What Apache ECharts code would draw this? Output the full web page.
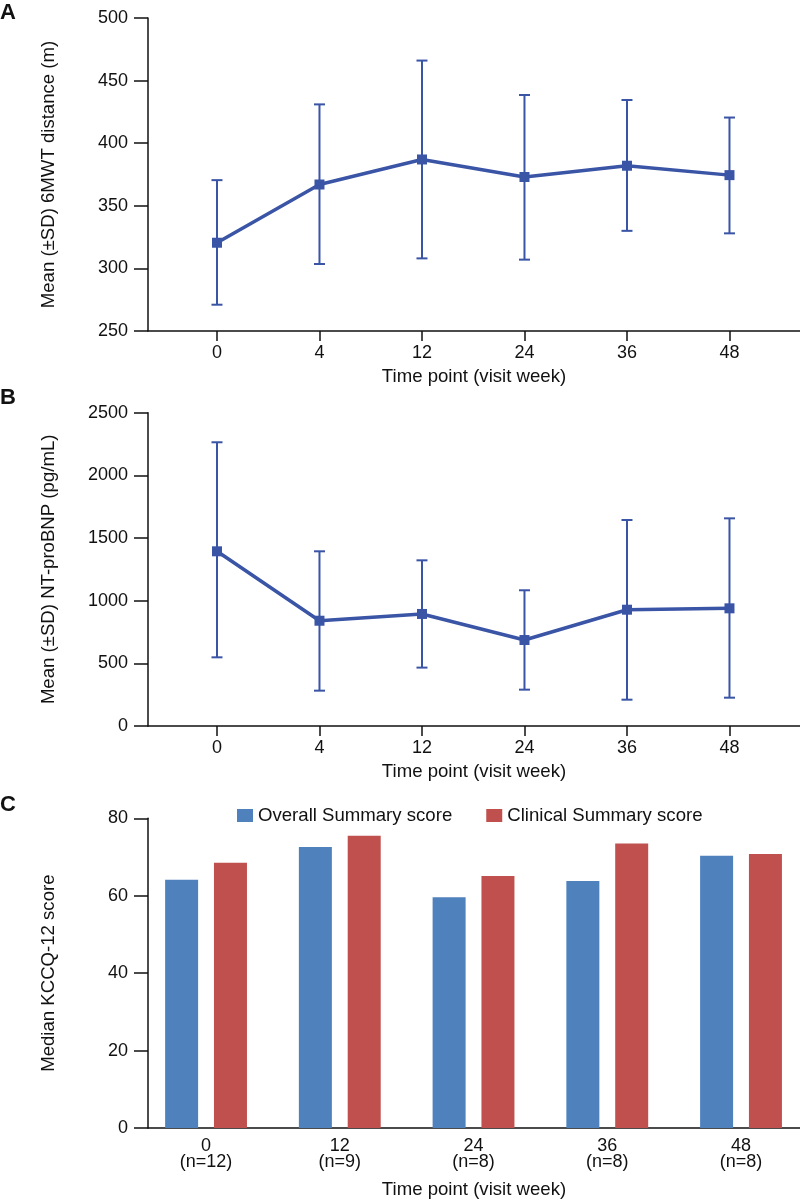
<!DOCTYPE html>
<html lang="en">
<head>
    <meta charset="UTF-8">
    <title>6MWT / NT-proBNP / KCCQ-12</title>
    <style>
        body { margin: 0; background: #fff; }
    </style>
</head>
<body>
<div id="main" style="width: 800px;height:1200px;"></div>
<script src="https://cdn.jsdelivr.net/npm/echarts@6/dist/echarts.min.js"></script>
<script type="text/javascript">
    // data
    var weeks = ['0', '4', '12', '24', '36', '48'];
    var walkMean = [320.5, 367, 387, 373, 382, 374.5];
    var walkLow = [271, 303.5, 308, 307, 330, 328];
    var walkHigh = [370.5, 431, 466, 438.5, 434.5, 420.5];

    var bnpMean = [1394, 840, 894, 686, 928, 939];
    var bnpLow = [548, 282, 466, 290, 210, 226];
    var bnpHigh = [2264, 1394, 1322, 1083, 1644, 1657];

    var kccqWeeks = ['0', '12', '24', '36', '48'];
    var kccqN = ['n=12', 'n=9', 'n=8', 'n=8', 'n=8'];
    var overallScore = [64.1, 72.6, 59.6, 63.8, 70.3];
    var clinicalScore = [68.5, 75.5, 65.1, 73.5, 70.8];

    var lineColor = '#3a54a6';
    var font = 'Liberation Sans, Arial, Helvetica, sans-serif';
    var nameSize = 18.6;

    function pairs(vals) {
        return vals.map(function (v, i) { return [i, v]; });
    }
    function errData(low, high) {
        return low.map(function (v, i) { return [i, v, high[i]]; });
    }
    // vertical SD bar with caps
    function renderErr(params, api) {
        var x = api.value(0);
        var lo = api.coord([x, api.value(1)]);
        var hi = api.coord([x, api.value(2)]);
        var cap = 5.5;
        var style = { stroke: lineColor, lineWidth: 2 };
        return {
            type: 'group',
            children: [
                { type: 'line', shape: { x1: lo[0], y1: lo[1], x2: hi[0], y2: hi[1] }, style: style },
                { type: 'line', shape: { x1: lo[0] - cap, y1: lo[1], x2: lo[0] + cap, y2: lo[1] }, style: style },
                { type: 'line', shape: { x1: hi[0] - cap, y1: hi[1], x2: hi[0] + cap, y2: hi[1] }, style: style }
            ]
        };
    }

    var idx6 = [0, 1, 2, 3, 4, 5];
    var idx5 = [0, 1, 2, 3, 4];

    function weekAxis(gridIndex) {
        return {
            type: 'value',
            gridIndex: gridIndex,
            min: -0.673,
            max: 5.688,
            name: 'Time point (visit week)',
            nameLocation: 'middle',
            nameGap: 36,
            nameTextStyle: { color: '#111', fontSize: nameSize, fontFamily: font },
            axisLine: { onZero: false, lineStyle: { color: '#111', width: 1.5 } },
            axisTick: { show: true, length: 10, customValues: idx6, lineStyle: { color: '#111', width: 1.5 } },
            axisLabel: {
                customValues: idx6, margin: 13, color: '#111', fontSize: 18, fontFamily: font,
                formatter: function (v) { return weeks[Math.round(v)]; }
            },
            splitLine: { show: false }
        };
    }
    function valAxis(gridIndex, min, max, interval, name) {
        return {
            type: 'value',
            gridIndex: gridIndex,
            min: min,
            max: max,
            interval: interval,
            name: name,
            nameLocation: 'middle',
            nameGap: 90,
            nameTextStyle: { color: '#111', fontSize: nameSize, fontFamily: font },
            axisLine: { show: true, onZero: false, lineStyle: { color: '#111', width: 1.5 } },
            axisTick: { show: true, length: 14, lineStyle: { color: '#111', width: 1.5 } },
            axisLabel: {
                margin: 20, color: '#111', fontSize: 18, fontFamily: font,
                formatter: function (v) { return String(v); }
            },
            splitLine: { show: false }
        };
    }

    var myChart = echarts.init(document.getElementById('main'));

    var option = {
        backgroundColor: '#fff',
        animation: false,
        textStyle: { fontFamily: font },
        graphic: [
            { type: 'text', left: 0, top: 2, style: { text: 'A', fontSize: 22, fontWeight: 'bold', fill: '#111', fontFamily: font } },
            { type: 'text', left: 0, top: 387, style: { text: 'B', fontSize: 22, fontWeight: 'bold', fill: '#111', fontFamily: font } },
            { type: 'text', left: 0, top: 794, style: { text: 'C', fontSize: 22, fontWeight: 'bold', fill: '#111', fontFamily: font } }
        ],
        legend: {
            data: ['Overall Summary score', 'Clinical Summary score'],
            left: 237,
            top: 806,
            padding: 0,
            itemWidth: 16,
            itemHeight: 13,
            itemGap: 34,
            icon: 'rect',
            textStyle: { color: '#111', fontSize: nameSize, fontFamily: font }
        },
        grid: [
            { left: 148, top: 18, width: 652, height: 313 },
            { left: 148, top: 412.7, width: 652, height: 313.3 },
            { left: 148, top: 818.3, width: 652, height: 311 }
        ],
        xAxis: [
            weekAxis(0),
            weekAxis(1),
            {
                type: 'value',
                gridIndex: 2,
                min: -0.434,
                max: 4.441,
                name: 'Time point (visit week)',
                nameLocation: 'middle',
                nameGap: 52,
                nameTextStyle: { color: '#111', fontSize: nameSize, fontFamily: font },
                axisLine: { onZero: false, lineStyle: { color: '#111', width: 1.5 } },
                axisTick: { show: false },
                axisLabel: {
                    customValues: idx5, margin: 10, color: '#111', fontSize: 18, lineHeight: 16, fontFamily: font,
                    formatter: function (v) {
                        var i = Math.round(v);
                        return kccqWeeks[i] + '\n(' + kccqN[i] + ')';
                    }
                },
                splitLine: { show: false }
            }
        ],
        yAxis: [
            valAxis(0, 250, 500, 50, 'Mean (±SD) 6MWT distance (m)'),
            valAxis(1, 0, 2500, 500, 'Mean (±SD) NT-proBNP (pg/mL)'),
            valAxis(2, 0, 80, 20, 'Median KCCQ-12 score')
        ],
        series: [
            {
                type: 'custom', xAxisIndex: 0, yAxisIndex: 0,
                renderItem: renderErr, data: errData(walkLow, walkHigh), z: 2
            },
            {
                name: '6MWT', type: 'line', xAxisIndex: 0, yAxisIndex: 0,
                data: pairs(walkMean), symbol: 'rect', symbolSize: 10,
                lineStyle: { color: lineColor, width: 3.5 },
                itemStyle: { color: lineColor }, z: 3
            },
            {
                type: 'custom', xAxisIndex: 1, yAxisIndex: 1,
                renderItem: renderErr, data: errData(bnpLow, bnpHigh), z: 2
            },
            {
                name: 'NT-proBNP', type: 'line', xAxisIndex: 1, yAxisIndex: 1,
                data: pairs(bnpMean), symbol: 'rect', symbolSize: 10,
                lineStyle: { color: lineColor, width: 3.5 },
                itemStyle: { color: lineColor }, z: 3
            },
            {
                name: 'Overall Summary score', type: 'bar', xAxisIndex: 2, yAxisIndex: 2,
                data: pairs(overallScore), barWidth: 33, barGap: '48%',
                itemStyle: { color: '#4f81bd' }
            },
            {
                name: 'Clinical Summary score', type: 'bar', xAxisIndex: 2, yAxisIndex: 2,
                data: pairs(clinicalScore), barWidth: 33, barGap: '48%',
                itemStyle: { color: '#c0504d' }
            }
        ]
    };

    myChart.setOption(option);
</script>
</body>
</html>
